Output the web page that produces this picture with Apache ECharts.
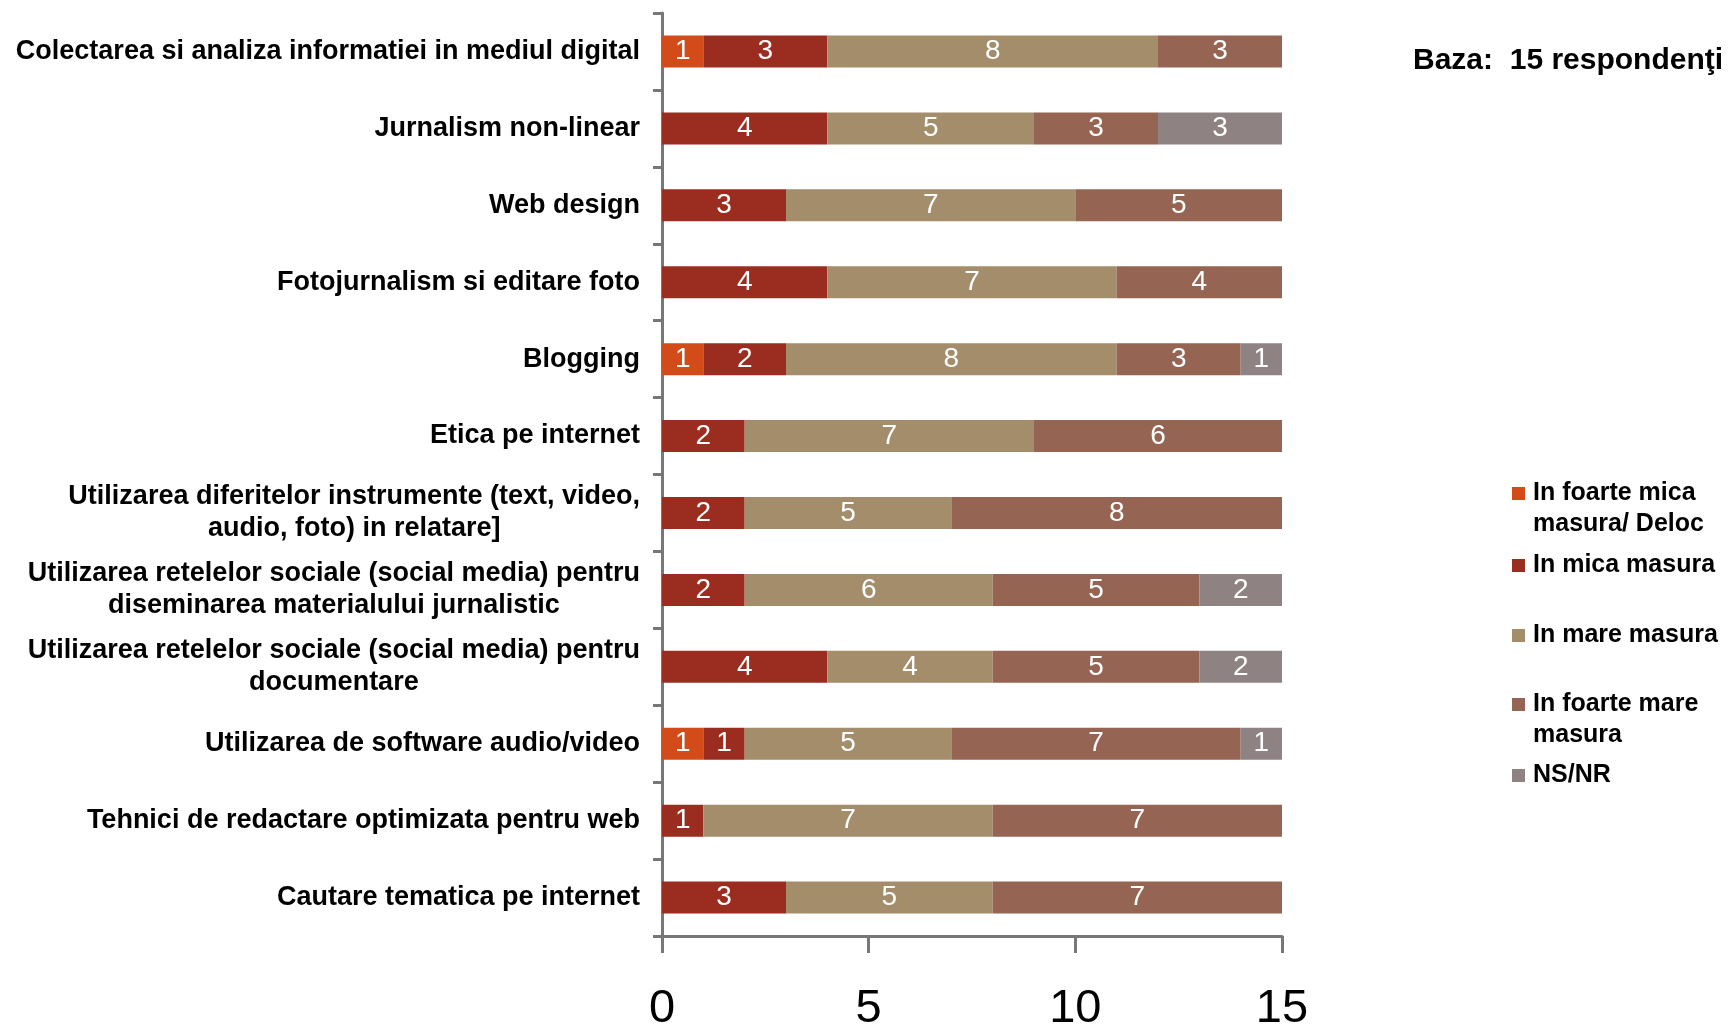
<!DOCTYPE html>
<html>
<head>
<meta charset="utf-8">
<script src="https://cdn.jsdelivr.net/npm/echarts@6/dist/echarts.min.js"></script>
<style>
html,body{margin:0;padding:0;background:#fff;}
#c{width:1731px;height:1029px;}
</style>
</head>
<body>
<div id="c"></div>
<script>
const categories = [
  'Colectarea si analiza informatiei in mediul digital',
  'Jurnalism non-linear',
  'Web design',
  'Fotojurnalism si editare foto',
  'Blogging',
  'Etica pe internet',
  'Utilizarea diferitelor instrumente (text, video,\naudio, foto) in relatare]',
  'Utilizarea retelelor sociale (social media) pentru\ndiseminarea materialului jurnalistic',
  'Utilizarea retelelor sociale (social media) pentru\ndocumentare',
  'Utilizarea de software audio/video',
  'Tehnici de redactare optimizata pentru web',
  'Cautare tematica pe internet'
];
const seriesNames = [
  'In foarte mica\nmasura/ Deloc',
  'In mica masura',
  'In mare masura',
  'In foarte mare\nmasura',
  'NS/NR'
];
const foarteMica = [1,0,0,0,1,0,0,0,0,1,0,0];
const mica       = [3,4,3,4,2,2,2,2,4,1,1,3];
const mare       = [8,5,7,7,8,7,5,6,4,5,7,5];
const foarteMare = [3,3,5,4,3,6,8,5,5,7,7,7];
const nsnr       = [0,3,0,0,1,0,0,2,2,1,0,0];
const xTicks = [0,5,10,15];
const titleText = 'Baza:  15 respondenţi';

const colors = ['#D24B19','#9B2D20','#A48D6A','#966452','#8F8282'];
const values = [foarteMica, mica, mare, foarteMare, nsnr];
const FONT = '"Liberation Sans", Arial, sans-serif';

const series = seriesNames.map((name, i) => ({
  name: name,
  type: 'bar',
  stack: 'total',
  barWidth: 32,
  itemStyle: { color: colors[i] },
  label: {
    show: true,
    position: 'inside',
    color: '#fff',
    fontFamily: FONT,
    fontSize: 28,
    formatter: p => (p.value ? String(p.value) : '')
  },
  data: values[i].map(v => (v === 0 ? '-' : v))
}));

// legend icon: square placed at the first text line for two-line items
const iconTwoLine = 'path://M0,0H13V13H0Z M0,44';
const legendTops = [478, 550, 620, 689, 760];
const legends = seriesNames.map((name, i) => {
  const two = name.indexOf('\n') >= 0;
  return {
    orient: 'vertical',
    left: 1512,
    top: legendTops[i],
    itemGap: 0,
    itemWidth: 13,
    itemHeight: two ? 44 : 13,
    icon: two ? iconTwoLine : 'rect',
    selectedMode: false,
    padding: 0,
    textStyle: {
      color: '#000',
      fontFamily: FONT,
      fontWeight: 'bold',
      fontSize: 25,
      lineHeight: 31,
      padding: [0, 0, 0, 3]
    },
    data: [name]
  };
});

const chart = echarts.init(document.getElementById('c'), null, { renderer: 'canvas' });
chart.setOption({
  animation: false,
  backgroundColor: '#fff',
  color: colors,
  title: {
    text: titleText,
    left: 1413,
    top: 46,
    padding: 0,
    textStyle: { color: '#000', fontFamily: FONT, fontWeight: 'bold', fontSize: 30 }
  },
  legend: legends,
  grid: { left: 662, right: 449, top: 13, bottom: 93, containLabel: false, outerBoundsMode: 'none' },
  xAxis: {
    type: 'value',
    min: xTicks[0],
    max: xTicks[xTicks.length - 1],
    interval: xTicks[1] - xTicks[0],
    axisLine: { show: true, lineStyle: { color: '#777', width: 3 } },
    axisTick: { show: true, length: 17, lineStyle: { color: '#777', width: 3 } },
    splitLine: { show: false },
    axisLabel: {
      color: '#000',
      fontFamily: FONT,
      fontSize: 47,
      lineHeight: 47,
      margin: 50
    }
  },
  yAxis: {
    type: 'category',
    inverse: true,
    data: categories,
    axisLine: { show: true, lineStyle: { color: '#777', width: 3 } },
    axisTick: { show: true, length: 9, alignWithLabel: false, lineStyle: { color: '#777', width: 3 } },
    axisLabel: {
      margin: 22,
      color: '#000',
      fontFamily: FONT,
      fontWeight: 'bold',
      fontSize: 27,
      lineHeight: 32,
      formatter: v => v.split('\n').map(s => '{c|' + s + '}').join('\n'),
      rich: {
        c: {
          align: 'center',
          color: '#000',
          fontFamily: FONT,
          fontWeight: 'bold',
          fontSize: 27,
          lineHeight: 32
        }
      }
    }
  },
  series: series
});
</script>
</body>
</html>
